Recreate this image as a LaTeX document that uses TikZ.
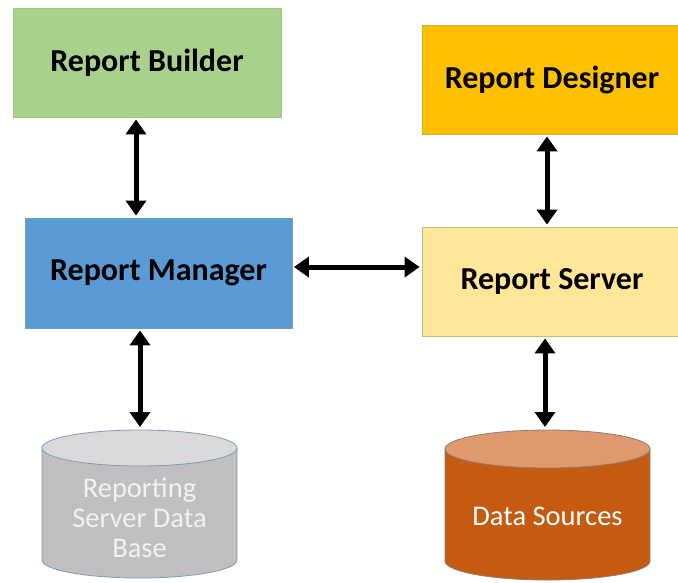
\documentclass[tikz,border=0pt]{standalone}
\usepackage{fontspec}
\setmainfont{Carlito}
\usetikzlibrary{arrows.meta}
\definecolor{bfill}{HTML}{A9D18E}
\definecolor{bdraw}{HTML}{9CC47E}
\definecolor{dfill}{HTML}{FFC000}
\definecolor{ddraw}{HTML}{C2B23C}
\definecolor{mfill}{HTML}{5B9BD5}
\definecolor{mdraw}{HTML}{6AA6A6}
\definecolor{sfill}{HTML}{FFE699}
\definecolor{sdraw}{HTML}{B3C77A}
\definecolor{gbody}{HTML}{BFBFBF}
\definecolor{gtop}{HTML}{D9D9D9}
\definecolor{gdraw}{HTML}{7F9BB8}
\definecolor{obody}{HTML}{C55A11}
\definecolor{otop}{HTML}{DE9A6E}
\definecolor{odraw}{HTML}{8C7A78}
\definecolor{dbtxt}{HTML}{F2F2F2}
\tikzset{
  box/.style={rectangle, inner sep=0pt, line width=0.8pt,
    font=\bfseries\fontsize{32}{38}\selectfont, text=black},
  dbtext/.style={align=center, inner sep=0pt, text=dbtxt,
    font=\fontsize{28.5}{30}\selectfont},
  dbl/.style={line width=5pt, {Triangle[width=20pt,length=15pt]}-{Triangle[width=20pt,length=15pt]}}
}
\begin{document}
\begin{tikzpicture}[x=1pt,y=-1pt]
\useasboundingbox (0,0) rectangle (678,582);
\fill[white] (0,0) rectangle (678,582);
% boxes
\node[box, fill=bfill, draw=bdraw, minimum width=268pt, minimum height=109pt] (builder) at (147,62.5) {Report Builder};
\node[box, fill=dfill, draw=ddraw, minimum width=260pt, minimum height=109pt] (designer) at (552,79.5) {Report Designer};
\node[box, fill=mfill, draw=mdraw, minimum width=267pt, minimum height=110pt] (manager) at (158.5,273) {Report Manager};
\node[box, fill=sfill, draw=sdraw, minimum width=260pt, minimum height=109pt] (server) at (552,281.5) {Report Server};
% left cylinder
\filldraw[fill=gbody, draw=gdraw, line width=0.8pt] (42,448) -- (42,560) .. controls (42,569.94) and (85.65,578) .. (139.5,578) .. controls (193.35,578) and (237,569.94) .. (237,560) -- (237,448) -- cycle;
\filldraw[fill=gtop, draw=gdraw, line width=0.8pt] (139.5,448) ellipse [x radius=97.5, y radius=18];
\node[dbtext] (dbL) at (139.5,518) {Reporting\\Server Data\\Base};
\coordinate (dbLtop) at (140,427);
% right cylinder
\filldraw[fill=obody, draw=odraw, line width=0.8pt] (445,449) -- (445,561) .. controls (445,571.49) and (490.89,580) .. (547.5,580) .. controls (604.11,580) and (650,571.49) .. (650,561) -- (650,449) -- cycle;
\filldraw[fill=otop, draw=odraw, line width=0.8pt] (547.5,449) ellipse [x radius=102.5, y radius=19];
\node[dbtext, text=white] (dbR) at (547.5,516) {Data Sources};
\coordinate (dbRtop) at (545,427);
% arrows (yshift is in canvas direction: positive = up)
\draw[dbl] ([xshift=-11pt,yshift=-2pt]builder.south) -- ([xshift=-22.5pt,yshift=2pt]manager.north);
\draw[dbl] ([xshift=-5pt,yshift=-2pt]designer.south) -- ([xshift=-5pt,yshift=2pt]server.north);
\draw[dbl] ([xshift=1.5pt,yshift=6pt]manager.east) -- ([xshift=-2pt,yshift=14.5pt]server.west);
\draw[dbl] ([xshift=-18.5pt,yshift=-2pt]manager.south) -- (dbLtop);
\draw[dbl] ([xshift=-7pt,yshift=-2pt]server.south) -- (dbRtop);
\end{tikzpicture}
\end{document}
